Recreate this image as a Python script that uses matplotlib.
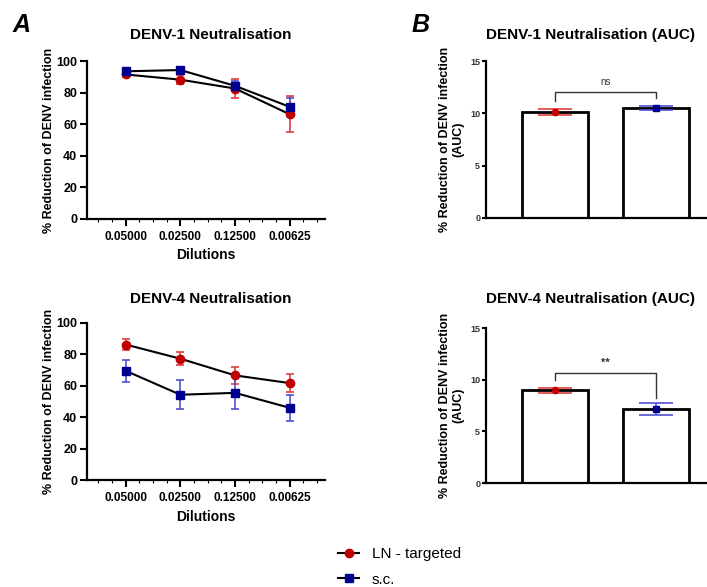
import numpy as np
import matplotlib.pyplot as plt
from matplotlib.lines import Line2D
from matplotlib.ticker import AutoMinorLocator

plt.rcParams["font.family"] = ["Liberation Sans", "DejaVu Sans"]

dilutions = ["0.05000", "0.02500", "0.12500", "0.00625"]
groups = ["LN - targeted", "s.c."]

# DENV-1 neutralisation curves
d1_ln = [91.5, 88.2, 82.6, 66.3]
d1_ln_err = [1.5, 2.8, 6.0, 11.3]
d1_sc = [93.5, 94.3, 84.3, 71.0]
d1_sc_err = [1.0, 1.2, 3.2, 5.5]

# DENV-4 neutralisation curves
d4_ln = [86.2, 77.2, 66.6, 61.7]
d4_ln_err = [3.5, 4.3, 5.4, 5.8]
d4_sc = [69.5, 54.3, 55.5, 46.0]
d4_sc_err = [7.1, 9.3, 10.5, 8.1]

# AUC bars
d1_auc = [10.15, 10.5]
d1_auc_err = [0.3, 0.15]
d4_auc = [8.98, 7.18]
d4_auc_err = [0.27, 0.55]

red = "#c00000"
blue = "#000090"
red_err = "#e04040"
blue_err = "#5050d0"

fig = plt.figure(figsize=(7.07, 5.87), dpi=100)


def curve_panel(rect, ln, ln_err, sc, sc_err, title, tpad):
    ax = fig.add_axes(rect)
    x = np.arange(len(dilutions))
    ax.errorbar(x, ln, yerr=ln_err, color="black", lw=1.5, ecolor=red_err,
                elinewidth=1.2, capsize=3, capthick=1.2, marker="o", ms=6,
                mfc=red, mec=red, zorder=3)
    ax.errorbar(x, sc, yerr=sc_err, color="black", lw=1.5, ecolor=blue_err,
                elinewidth=1.2, capsize=3, capthick=1.2, marker="s", ms=6,
                mfc=blue, mec=blue, zorder=3)
    ax.set_xlim(-0.71, 3.65)
    ax.set_ylim(0, 100)
    ax.set_yticks(range(0, 101, 20))
    ax.set_xticks(x)
    ax.set_xticklabels(dilutions, fontweight="bold", fontsize=8.5)
    for t in ax.get_yticklabels():
        t.set_fontweight("bold")
        t.set_fontsize(9)
    ax.xaxis.set_minor_locator(AutoMinorLocator(4))
    ax.tick_params(axis="x", which="minor", length=2, width=0.8)
    ax.tick_params(which="major", length=5, width=1.5)
    ax.tick_params(axis="y", pad=2)
    for s in ["top", "right"]:
        ax.spines[s].set_visible(False)
    for s in ["left", "bottom"]:
        ax.spines[s].set_linewidth(1.6)
    ax.set_xlabel("Dilutions", fontweight="bold", fontsize=10)
    ax.set_ylabel("% Reduction of DENV infection", fontweight="bold", fontsize=9,
                  labelpad=1)
    ax.set_title(title, fontweight="bold", fontsize=11, pad=tpad, x=0.52)
    return ax


def auc_panel(rect, vals, errs, title, sig, bracket, tpad):
    ax = fig.add_axes(rect)
    x = np.arange(2)
    ax.bar(x, vals, width=0.66, color="white", edgecolor="black", lw=2, zorder=2)
    cols = [(red, red_err, "o"), (blue, blue_err, "s")]
    for i in x:
        ax.errorbar(i, vals[i], yerr=errs[i], color=cols[i][0], ecolor=cols[i][1],
                    elinewidth=1.2, capsize=12, capthick=1.2, marker=cols[i][2],
                    ms=4.5, zorder=3)
    top, left_end, right_end = bracket
    ax.plot([0, 0, 1, 1], [left_end, top, top, right_end], color="#333333", lw=1)
    ax.text(0.5, top + 0.5, sig, ha="center", va="bottom", fontsize=7 if sig == "ns" else 8,
            fontweight="normal" if sig == "ns" else "bold", color="#333333")
    ax.set_xlim(-0.69, 1.84)
    ax.set_ylim(0, 15)
    ax.set_yticks([0, 5, 10, 15])
    ax.set_xticks([])
    for t in ax.get_yticklabels():
        t.set_fontsize(6.5)
        t.set_fontweight("bold")
        t.set_color("#333333")
    ax.tick_params(axis="y", length=3, width=1.5, pad=1)
    for s in ["top", "right"]:
        ax.spines[s].set_visible(False)
    for s in ["left", "bottom"]:
        ax.spines[s].set_linewidth(1.6)
    ax.set_ylabel("% Reduction of DENV infection\n(AUC)", fontweight="bold", fontsize=9,
                  labelpad=4)
    ax.set_title(title, fontweight="bold", fontsize=11, pad=tpad, x=0.41)
    return ax


ax1 = curve_panel([0.123, 0.627, 0.337, 0.269], d1_ln, d1_ln_err, d1_sc, d1_sc_err,
                  "DENV-1 Neutralisation", 16)
ax2 = curve_panel([0.123, 0.182, 0.337, 0.268], d4_ln, d4_ln_err, d4_sc, d4_sc_err,
                  "DENV-4 Neutralisation", 14)
auc_panel([0.687, 0.629, 0.36, 0.267], d1_auc, d1_auc_err, "DENV-1 Neutralisation (AUC)",
          "ns", (12.0, 11.2, 11.5), 16)
auc_panel([0.687, 0.177, 0.36, 0.264], d4_auc, d4_auc_err, "DENV-4 Neutralisation (AUC)",
          "**", (10.65, 10.0, 8.2), 18)

fig.text(0.017, 0.958, "A", fontsize=18, fontweight="bold", style="italic", va="center")
fig.text(0.582, 0.958, "B", fontsize=18, fontweight="bold", style="italic", va="center")

handles = [
    Line2D([], [], color="black", lw=1.5, marker="o", ms=6, mfc=red, mec=red),
    Line2D([], [], color="black", lw=1.5, marker="s", ms=6, mfc=blue, mec=blue),
]
fig.legend(handles, groups, loc="upper left", bbox_to_anchor=(0.478, 0.068),
           frameon=False, fontsize=11, handlelength=1.4, handletextpad=0.8,
           labelspacing=0.75, borderaxespad=0, borderpad=0)

fig.savefig("out.png", dpi=100)
